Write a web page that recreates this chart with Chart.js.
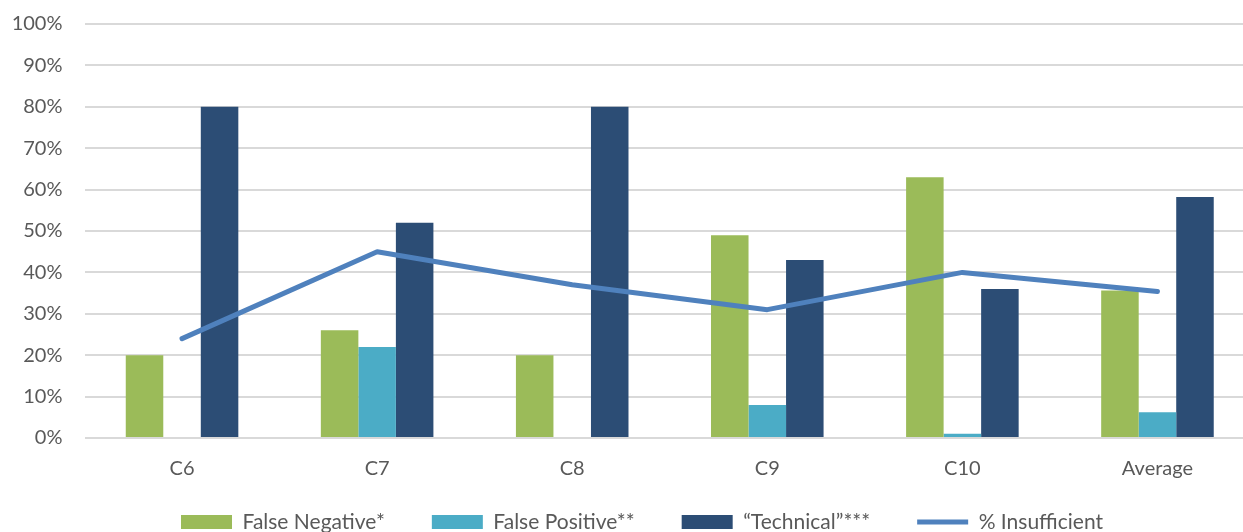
<!DOCTYPE html>
<html>
<head>
<meta charset="utf-8">
<script src="https://cdn.jsdelivr.net/npm/chart.js@4/dist/chart.umd.min.js"></script>
<style>
  html, body { margin: 0; padding: 0; overflow: hidden; background: #ffffff; }
  #wrap { width: 1243px; height: 532px; overflow: hidden; }
  canvas { display: block; }
</style>
</head>
<body>
<div id="wrap"><canvas id="chart" width="1255" height="532"></canvas></div>
<script>
// Categories and series (percent values)
const categories = ['C6', 'C7', 'C8', 'C9', 'C10', 'Average'];
const falseNegative = [20, 26, 20, 49, 63, 35.6];
const falsePositive = [0, 22, 0, 8, 1, 6.2];
const technical = [80, 52, 80, 43, 36, 58.2];
const insufficient = [24, 45, 37, 31, 40, 35.4];
const seriesNames = ['False Negative*', 'False Positive**', '\u201CTechnical\u201D***', '% Insufficient'];

const FONT = 'Lato, "Open Sans", "DejaVu Sans", sans-serif';
const TEXT = '#595959';

// Nudges the legend row so it sits centred under the whole figure, just below the axis labels
const legendNudge = {
  id: 'legendNudge',
  afterLayout(chart) {
    const lg = chart.legend;
    if (!lg) return;
    lg.left += 14.5; lg.right += 14.5;
    lg.top -= 18.5; lg.bottom -= 18.5;
  }
};

new Chart(document.getElementById('chart'), {
  data: {
    labels: categories,
    datasets: [
      {
        type: 'line', label: seriesNames[3], data: insufficient,
        borderColor: '#4F81BD', backgroundColor: '#4F81BD',
        borderWidth: 5, borderCapStyle: 'round', borderJoinStyle: 'round',
        pointRadius: 0, pointHoverRadius: 0, pointStyle: 'line',
        tension: 0, fill: false, order: 0
      },
      { type: 'bar', label: seriesNames[0], data: falseNegative, backgroundColor: '#9BBB59', pointStyle: 'rect', order: 1 },
      { type: 'bar', label: seriesNames[1], data: falsePositive, backgroundColor: '#4BACC6', pointStyle: 'rect', order: 1 },
      { type: 'bar', label: seriesNames[2], data: technical, backgroundColor: '#2C4D75', pointStyle: 'rect', order: 1 }
    ]
  },
  plugins: [legendNudge],
  options: {
    responsive: false,
    animation: false,
    devicePixelRatio: 1,
    layout: { padding: { left: 0, right: 0, top: 24, bottom: -29 } },
    datasets: { bar: { categoryPercentage: 0.577, barPercentage: 1, borderWidth: 0 } },
    scales: {
      x: {
        offset: true,
        grid: { display: false, drawTicks: false },
        border: { display: false },
        ticks: { color: TEXT, font: { family: FONT, size: 20 }, padding: 19, maxRotation: 0 },
        afterFit(scale) { scale.height = 45; }
      },
      y: {
        min: 0, max: 100,
        grid: { color: '#D9D9D9', lineWidth: 2, drawTicks: false },
        border: { display: false },
        ticks: {
          stepSize: 10, color: TEXT, padding: 22,
          font: { family: FONT, size: 20 },
          callback: v => v + '%'
        },
        afterFit(scale) {
          scale.width = 84.5;
          scale.paddingTop = 0;
          scale.paddingBottom = 0;
        }
      }
    },
    plugins: {
      tooltip: { enabled: false },
      legend: {
        position: 'bottom',
        labels: {
          color: TEXT,
          font: { family: FONT, size: 21 },
          usePointStyle: true,
          pointStyleWidth: 51,
          boxHeight: 14,
          padding: 47,
          sort: (a, b) => {
            const rank = i => (i === 0 ? 3 : i - 1);
            return rank(a.datasetIndex) - rank(b.datasetIndex);
          }
        }
      }
    }
  }
});
</script>
</body>
</html>
